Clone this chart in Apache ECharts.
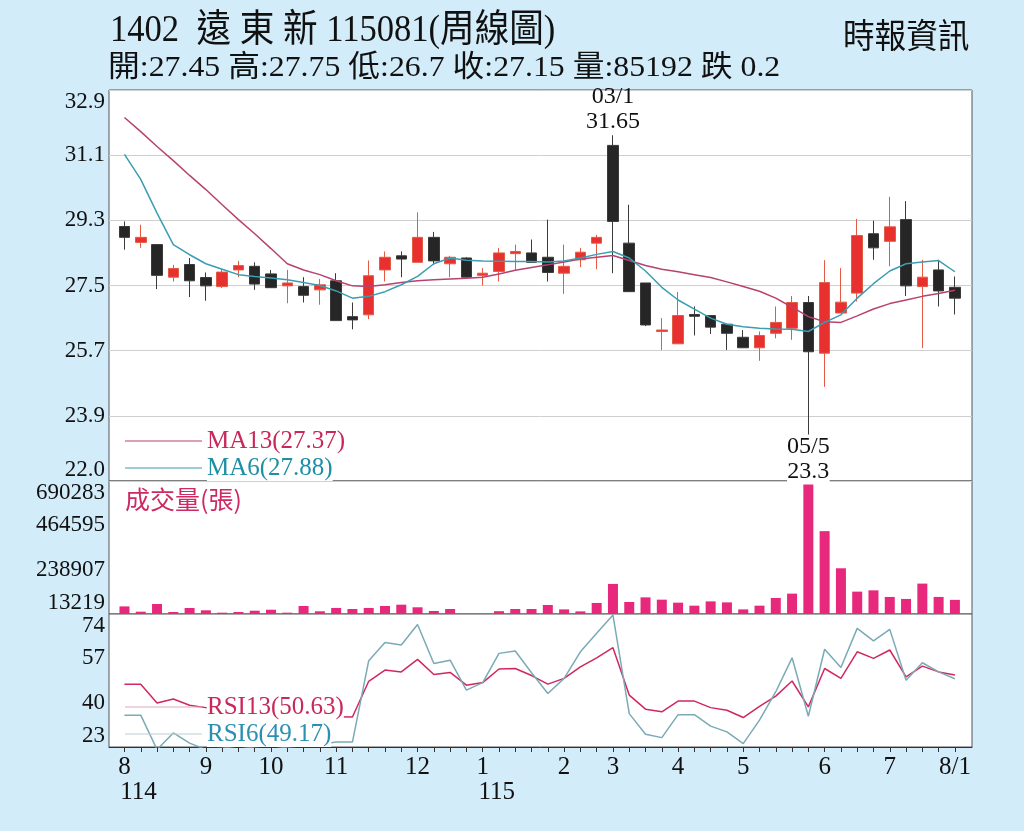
<!DOCTYPE html>
<html lang="zh-Hant">
<head>
<meta charset="UTF-8">
<title>1402 遠東新 周線圖</title>
<script src="https://cdn.jsdelivr.net/npm/echarts@6/dist/echarts.min.js"></script>
<style>
html, body { margin: 0; padding: 0; width: 100%; height: 100%; background: #d3ecfa; }
#main { width: 1024px; height: 831px; }
</style>
</head>
<body>
<div id="main"></div>
<script>
// 週K: [開, 收, 低, 高]
var candles = [
  [29.13, 28.83, 28.49, 29.27], [28.69, 28.83, 28.54, 29.18], [28.63, 27.78, 27.40, 28.63],
  [27.73, 27.97, 27.61, 28.07], [28.08, 27.63, 27.18, 28.26], [27.72, 27.49, 27.08, 27.86],
  [27.47, 27.87, 27.43, 27.95], [27.93, 28.05, 27.73, 28.18], [28.03, 27.54, 27.38, 28.14],
  [27.82, 27.44, 27.43, 27.93], [27.49, 27.57, 27.01, 27.93], [27.47, 27.23, 27.03, 27.73],
  [27.38, 27.52, 26.97, 27.68], [27.63, 26.53, 26.53, 27.84], [26.64, 26.55, 26.29, 27.03],
  [26.69, 27.77, 26.57, 28.19], [27.93, 28.28, 27.61, 28.44], [28.32, 28.23, 27.73, 28.44],
  [28.14, 28.83, 28.14, 29.52], [28.83, 28.18, 28.07, 28.98], [28.10, 28.28, 27.73, 28.32],
  [28.26, 27.73, 27.72, 28.28], [27.78, 27.84, 27.50, 27.98], [27.89, 28.40, 27.61, 28.54],
  [28.38, 28.44, 27.91, 28.63], [28.40, 28.14, 28.14, 28.77], [28.28, 27.86, 27.61, 29.32],
  [27.84, 28.03, 27.27, 28.63], [28.21, 28.42, 28.01, 28.54], [28.67, 28.83, 27.95, 28.90],
  [31.37, 29.27, 27.84, 31.65], [28.67, 27.33, 27.33, 29.73], [27.57, 26.41, 26.38, 27.57],
  [26.23, 26.27, 25.72, 26.60], [25.89, 26.67, 25.89, 27.32], [26.70, 26.65, 26.12, 26.92],
  [26.67, 26.35, 26.16, 26.67], [26.43, 26.18, 25.72, 26.43], [26.07, 25.78, 25.78, 26.27],
  [25.78, 26.12, 25.42, 26.23], [26.18, 26.48, 26.04, 26.92], [26.32, 27.03, 26.00, 27.21],
  [27.03, 25.67, 23.30, 27.21], [25.63, 27.58, 24.70, 28.20], [26.74, 27.04, 26.74, 27.98],
  [27.29, 28.88, 27.06, 29.34], [28.93, 28.54, 28.21, 29.29], [28.72, 29.12, 28.03, 29.95],
  [29.32, 27.49, 27.21, 29.83], [27.47, 27.73, 25.77, 28.21], [27.93, 27.35, 26.92, 28.21],
  [27.45, 27.15, 26.70, 27.75]
];
var ma13 = [32.14, 31.75, 31.34, 30.95, 30.54, 30.15, 29.73, 29.32, 28.93, 28.52, 28.10, 27.93, 27.80,
  27.63, 27.49, 27.47, 27.52, 27.58, 27.63, 27.66, 27.68, 27.70, 27.73, 27.82, 27.92, 28.00,
  28.07, 28.15, 28.23, 28.28, 28.33, 28.19, 28.05, 27.95, 27.88, 27.80, 27.72, 27.60, 27.47,
  27.34, 27.15, 26.90, 26.64, 26.50, 26.48, 26.66, 26.85, 27.00, 27.10, 27.20, 27.28, 27.37];
var ma6 = [31.12, 30.43, 29.50, 28.63, 28.35, 28.10, 27.95, 27.80, 27.75, 27.71, 27.66, 27.58, 27.50,
  27.35, 27.15, 27.20, 27.33, 27.52, 27.75, 28.10, 28.26, 28.20, 28.18, 28.17, 28.16, 28.16,
  28.15, 28.18, 28.26, 28.36, 28.44, 28.26, 27.90, 27.45, 27.10, 26.85, 26.60, 26.43, 26.36,
  26.32, 26.30, 26.29, 26.23, 26.48, 26.69, 27.15, 27.55, 27.90, 28.10, 28.15, 28.19, 27.88];
var volumes = [52000, 25000, 64000, 23400, 43900, 32000, 20000, 23400, 30000, 35000, 20000, 54000, 27000,
  44000, 38700, 44000, 54000, 60700, 47400, 28500, 38700, 13000, 13000, 27500, 38700, 38700,
  59200, 36700, 26500, 69400, 166400, 74500, 98000, 86200, 70900, 55600, 77500, 72400, 36700,
  55600, 94900, 116900, 688000, 435000, 246000, 127100, 133700, 100000, 89800, 168000, 100000, 85192];
var rsi13 = [47.1, 47.1, 39.9, 41.4, 39.0, 38.1, 37.5, 37.0, 36.5, 36.0, 35.5, 35.0, 34.7, 34.6, 34.5,
  48.2, 52.5, 51.8, 56.6, 50.8, 51.6, 46.7, 47.7, 52.9, 53.1, 50.4, 47.1, 49.3, 53.7, 57.2,
  61.1, 42.9, 37.5, 36.5, 40.6, 40.6, 38.1, 37.1, 34.3, 38.6, 42.5, 48.3, 38.4, 53.1, 49.3,
  59.5, 57.0, 60.2, 49.9, 54.0, 51.8, 50.63];
var rsi6 = [35.2, 35.2, 22.0, 28.4, 24.5, 22.0, 22.5, 23.5, 22.5, 22.0, 23.0, 23.5, 24.0, 24.9, 24.9,
  56.1, 63.1, 62.1, 70.0, 55.0, 56.3, 44.8, 47.7, 58.9, 59.8, 51.5, 43.5, 49.3, 59.5, 66.6,
  73.6, 35.8, 27.9, 26.6, 35.4, 35.4, 31.0, 28.8, 24.3, 33.3, 44.2, 57.2, 34.8, 60.5, 53.5,
  68.5, 63.7, 68.1, 48.6, 55.3, 51.8, 49.17];

// 月份刻度 (週序號)
var monthIdx = [0, 5, 9, 13, 18, 22, 27, 30, 34, 38, 43, 47, 51];
var monthLabels = ['8', '9', '10', '11', '12', '1', '2', '3', '4', '5', '6', '7', '8/1'];
var yearLabels = ['114', '', '', '', '', '115', '', '', '', '', '', '', ''];
var priceTickLabels = ['22.0', '23.9', '25.7', '27.5', '29.3', '31.1', '32.9'];
var highDate = '03/1';
var lowDate = '05/5';

var titleText = '1402  遠 東 新 115081(周線圖)';
var quoteText = '開:27.45 高:27.75 低:26.7 收:27.15 量:85192 跌 0.2';
var sourceText = '時報資訊';

var SERIF = '"Liberation Serif", "Noto Sans CJK TC", serif';
var CJK = '"Noto Sans CJK TC", sans-serif';

var weekIdx = candles.map(function (c, i) { return i; });
function pairs(arr) { return arr.map(function (v, i) { return [i, v]; }); }
function last(arr) { return arr[arr.length - 1]; }

var chart = echarts.init(document.getElementById('main'));

var xBase = { type: 'value', min: -0.95, max: 52.05 };
var yLabel = {
  fontFamily: SERIF, fontSize: 23, color: '#111', margin: 4,
  showMinLabel: true, showMaxLabel: true,
  verticalAlignMinLabel: 'bottom', verticalAlignMaxLabel: 'top'
};

var option = {
  animation: false,
  backgroundColor: '#d3ecfa',
  grid: [
    { left: 109, right: 52, top: 90, height: 391, show: true, backgroundColor: '#fff', borderColor: '#555', borderWidth: 1 },
    { left: 109, right: 52, top: 481, height: 133, show: true, backgroundColor: '#fff', borderColor: '#555', borderWidth: 1 },
    { left: 109, right: 52, top: 614, height: 133, show: true, backgroundColor: '#fff', borderColor: '#555', borderWidth: 1 }
  ],
  xAxis: [
    Object.assign({ gridIndex: 0, show: false }, xBase),
    Object.assign({ gridIndex: 1, show: false }, xBase),
    Object.assign({
      gridIndex: 2,
      axisLine: { show: true, lineStyle: { color: '#333' } },
      axisTick: { show: true, customValues: weekIdx, length: 5, lineStyle: { color: '#333' } },
      splitLine: { show: false },
      axisLabel: {
        customValues: monthIdx, margin: 8,
        formatter: function (v) {
          var k = monthIdx.indexOf(v);
          var s = '{m|' + monthLabels[k] + '}';
          if (yearLabels[k]) s += '\n{y|' + yearLabels[k] + '}';
          return s;
        },
        rich: {
          m: { fontFamily: SERIF, fontSize: 25, lineHeight: 25, color: '#111' },
          y: { fontFamily: SERIF, fontSize: 25, lineHeight: 25, color: '#111', padding: [0, 0, 0, 28] }
        }
      }
    }, xBase)
  ],
  yAxis: [
    {
      type: 'value', gridIndex: 0, min: 22.1, max: 32.9, interval: 1.8,
      axisLine: { show: false }, axisTick: { show: false },
      splitLine: { show: true, lineStyle: { color: '#cfcfcf' } },
      axisLabel: Object.assign({}, yLabel, {
        formatter: function (v, i) { return priceTickLabels[i]; }
      })
    },
    {
      type: 'value', gridIndex: 1, min: 13219, max: 690283, interval: 225688,
      axisLine: { show: false }, axisTick: { show: false }, splitLine: { show: false },
      axisLabel: Object.assign({}, yLabel, {
        formatter: function (v) { return String(Math.round(v)); }
      })
    },
    {
      type: 'value', gridIndex: 2, min: 23, max: 74, interval: 17,
      axisLine: { show: false }, axisTick: { show: false }, splitLine: { show: false },
      axisLabel: yLabel
    }
  ],
  legend: [
    {
      data: [
        { name: 'MA13', textStyle: { color: '#c8285a' } },
        { name: 'MA6', textStyle: { color: '#1f8fa6' } }
      ],
      orient: 'vertical', left: 125, top: 428, padding: 0, icon: 'rect', itemWidth: 77, itemHeight: 1, itemGap: 1,
      selectedMode: false,
      formatter: function (n) { return n + '(' + (n === 'MA13' ? last(ma13) : last(ma6)).toFixed(2) + ')'; },
      textStyle: { fontFamily: SERIF, fontSize: 25, lineHeight: 26, backgroundColor: '#fff' }
    },
    {
      data: [
        { name: 'RSI13', textStyle: { color: '#c8285a' }, itemStyle: { color: '#dcaabb' } },
        { name: 'RSI6', textStyle: { color: '#2a8fb0' }, itemStyle: { color: '#bccdd2' } }
      ],
      orient: 'vertical', left: 125, top: 694, padding: 0, icon: 'rect', itemWidth: 77, itemHeight: 1, itemGap: 1,
      selectedMode: false,
      formatter: function (n) { return n + '(' + (n === 'RSI13' ? last(rsi13) : last(rsi6)).toFixed(2) + ')'; },
      textStyle: { fontFamily: SERIF, fontSize: 25, lineHeight: 26, backgroundColor: '#fff' }
    }
  ],
  graphic: [
    { type: 'text', x: 110, y: 31, scaleX: 0.91, style: { text: titleText, font: '38px ' + SERIF, fill: '#111', verticalAlign: 'middle' } },
    { type: 'text', x: 108, y: 68, scaleX: 1.06, style: { text: quoteText, font: '30px ' + SERIF, fill: '#111', verticalAlign: 'middle' } },
    { type: 'text', x: 843, y: 35, scaleX: 0.93, style: { text: sourceText, font: '34px ' + CJK, fill: '#111', verticalAlign: 'middle' } },
    { type: 'text', x: 125, y: 499, style: { text: '成交量(張)', font: '25px ' + CJK, fill: '#cc2a63', verticalAlign: 'middle' } }
  ],
  series: [
    {
      name: 'K', type: 'candlestick', xAxisIndex: 0, yAxisIndex: 0, barWidth: 11,
      data: candles.map(function (c, i) { return [i, c[0], c[1], c[2], c[3]]; }),
      itemStyle: { color: '#e8302e', color0: '#262626', borderColor: '#e35a45', borderColor0: '#3a3a3a', borderWidth: 1 },
      markPoint: {
        symbol: 'circle', symbolSize: 0,
        label: { fontFamily: SERIF, fontSize: 24, lineHeight: 25, color: '#111' },
        data: [
          { type: 'max', valueDim: 'highest',
            label: { position: 'top', distance: 1, formatter: function (p) { return highDate + '\n' + p.value; } } },
          { type: 'min', valueDim: 'lowest',
            label: { position: 'bottom', distance: -3, backgroundColor: '#fff',
              formatter: function (p) { return lowDate + '\n' + p.value; } } }
        ]
      }
    },
    {
      name: 'MA13', type: 'line', xAxisIndex: 0, yAxisIndex: 0, data: pairs(ma13),
      symbol: 'none', color: '#b8426f', lineStyle: { width: 1.5 }
    },
    {
      name: 'MA6', type: 'line', xAxisIndex: 0, yAxisIndex: 0, data: pairs(ma6),
      symbol: 'none', color: '#3a9db0', lineStyle: { width: 1.5 }
    },
    {
      name: '成交量', type: 'bar', xAxisIndex: 1, yAxisIndex: 1, barWidth: 10,
      data: pairs(volumes), itemStyle: { color: '#e8287c' }
    },
    {
      name: 'RSI13', type: 'line', xAxisIndex: 2, yAxisIndex: 2, data: pairs(rsi13),
      symbol: 'none', color: '#d0285e', lineStyle: { width: 1.5 }
    },
    {
      name: 'RSI6', type: 'line', xAxisIndex: 2, yAxisIndex: 2, data: pairs(rsi6),
      symbol: 'none', color: '#7aaab5', lineStyle: { width: 1.5 }
    }
  ]
};

chart.setOption(option);
</script>
</body>
</html>
